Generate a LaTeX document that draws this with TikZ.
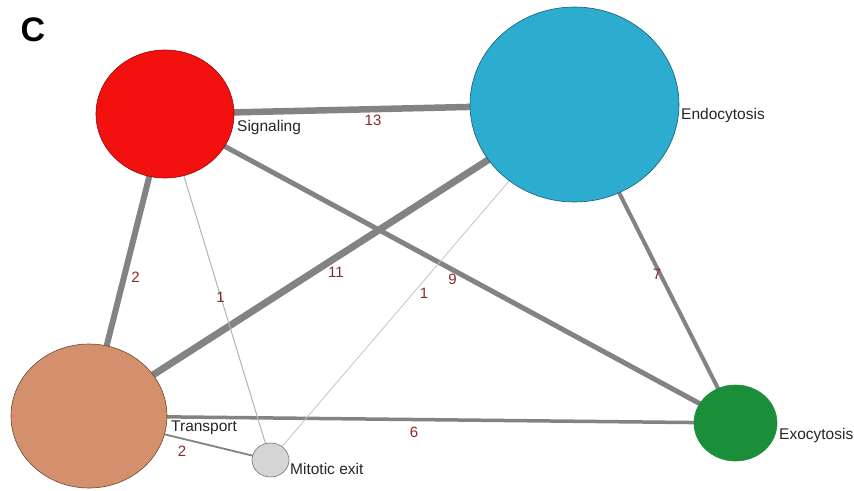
\documentclass[tikz,border=0pt]{standalone}
\usepackage{fontspec}
\setmainfont{Liberation Sans}
\usetikzlibrary{shapes.geometric}
\pgfdeclarelayer{back}
\pgfdeclarelayer{bg}
\pgfsetlayers{back,bg,main}
\definecolor{edgegray}{HTML}{838383}
\definecolor{thingray}{HTML}{B4B4B4}
\definecolor{lblred}{HTML}{8E2A2A}
\definecolor{sigred}{HTML}{F2110F}
\definecolor{endoblue}{HTML}{2CACCF}
\definecolor{transtan}{HTML}{D4906D}
\definecolor{exogreen}{HTML}{1B8E3A}
\definecolor{mitgray}{HTML}{D5D5D5}
\tikzset{
  gnode/.style={ellipse, inner sep=0pt, draw, line width=0.6pt},
  nlabel/.style={anchor=west, inner sep=0pt, font=\fontsize{15.5}{16}\selectfont, text=black!85},
  elabel/.style={inner sep=0pt, font=\fontsize{15}{16}\selectfont, text=lblred},
  edge/.style={draw=edgegray},
  thinedge/.style={draw=thingray, line width=1pt}
}
\begin{document}
\begin{tikzpicture}[x=1pt,y=-1pt]
\useasboundingbox (0,0) rectangle (854,490);
\begin{pgfonlayer}{back}
\fill[white] (0,0) rectangle (854,490);
\end{pgfonlayer}
\node[font=\fontsize{34}{35}\selectfont\bfseries, inner sep=0pt] (panel) at (33,30) {C};
% nodes
\node[gnode, fill=sigred, draw=sigred!60!black, minimum width=138pt, minimum height=128pt] (sig) at (165,114) {};
\node[gnode, fill=endoblue, draw=endoblue!55!black, minimum width=209pt, minimum height=195pt] (endo) at (574.5,104.5) {};
\node[gnode, fill=transtan, draw=transtan!50!black, minimum width=156pt, minimum height=144pt] (trans) at (89,416) {};
\node[gnode, fill=exogreen, draw=exogreen, minimum width=83pt, minimum height=76pt] (exo) at (735.5,423) {};
\node[gnode, fill=mitgray, draw=black!55, minimum width=37pt, minimum height=34pt] (mit) at (270.5,460) {};
% node labels
\node[nlabel] (lsig) at (237,127) {Signaling};
\node[nlabel] (lendo) at (681,115) {Endocytosis};
\node[nlabel] (ltrans) at (171,428) {Transport};
\node[nlabel] (lexo) at (779,435) {Exocytosis};
\node[nlabel] (lmit) at (290,469) {Mitotic exit};
% edges
\begin{pgfonlayer}{bg}
\draw[edge, line width=6.5pt] (sig.center) -- (endo.center);
\draw[edge, line width=7pt] (trans.center) -- (endo.center);
\draw[edge, line width=5pt] (sig.center) -- (exo.center);
\draw[edge, line width=4pt] (endo.center) -- (exo.center);
\draw[edge, line width=3.5pt] (trans.center) -- (exo.center);
\draw[edge, line width=6pt] (sig.center) -- (trans.center);
\draw[edge, line width=1.8pt] (trans.center) -- (mit.center);
\draw[thinedge] (sig.center) -- (mit.center);
\draw[thinedge, line width=0.8pt, draw=thingray!80] (endo.center) -- (mit.center);
\end{pgfonlayer}
% edge labels
\node[elabel] (e13) at (373,120) {13};
\node[elabel] (e2a) at (135.5,277) {2};
\node[elabel] (e1a) at (220.5,297) {1};
\node[elabel] (e11) at (336,272) {11};
\node[elabel] (e9) at (452.5,279) {9};
\node[elabel] (e1b) at (424,293) {1};
\node[elabel] (e7) at (657,274) {7};
\node[elabel] (e6) at (414,432) {6};
\node[elabel] (e2b) at (182,451) {2};
\end{tikzpicture}
\end{document}
